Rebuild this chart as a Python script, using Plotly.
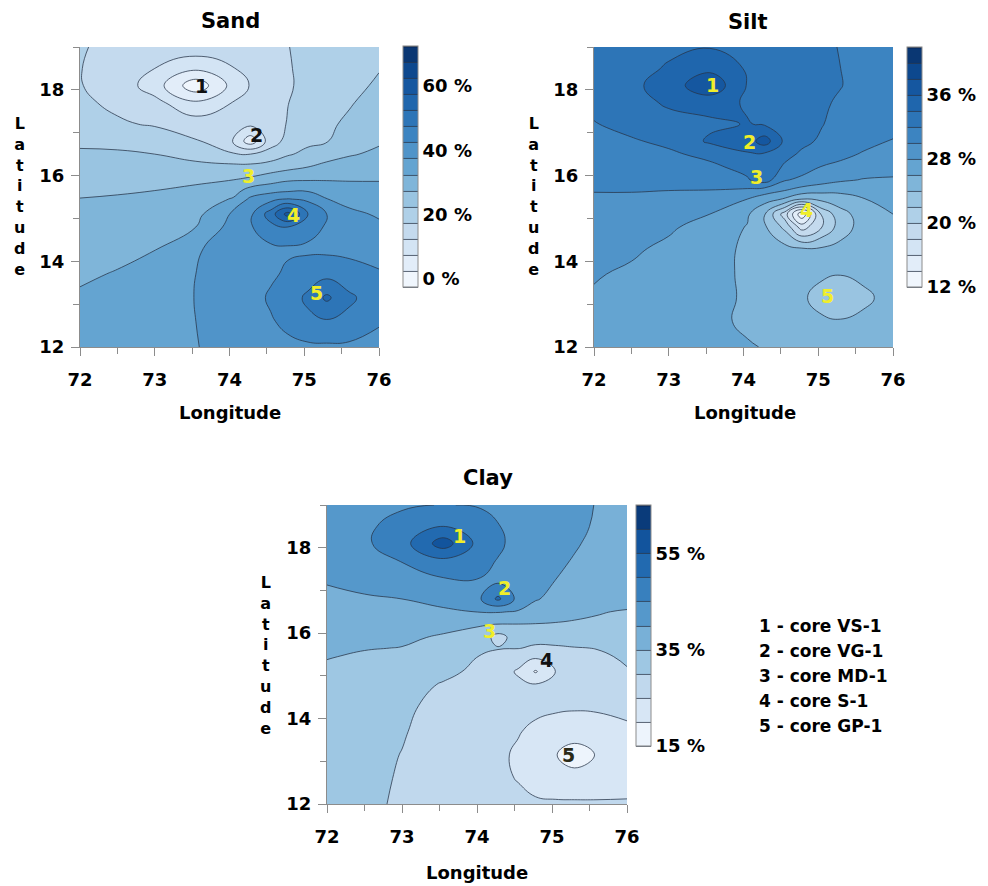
import plotly.graph_objects as go

# ---------------- data ----------------
LON = [72.0, 72.5, 73.0, 73.55, 74.05, 74.28, 74.55, 74.78, 75.05, 75.3, 75.6, 76.0]
LAT = [12.0, 12.6, 13.15, 13.7, 14.3, 14.8, 15.1, 15.45, 15.65, 15.9, 16.2, 16.5,
       16.8, 17.2, 17.7, 18.1, 18.5, 19.0]

# Sand (%), rows follow LAT, columns follow LON
SAND = [
    [35.0, 35.7, 36.5, 37.4, 38.5, 39.5, 40.5, 41.2, 41.6, 41.7, 41.6, 41.5],
    [34.0, 34.8, 36.0, 37.5, 39.0, 40.0, 42.0, 43.8, 46.3, 47.0, 46.0, 42.8],
    [33.1, 34.0, 35.5, 37.6, 39.0, 40.5, 43.2, 45.0, 48.5, 53.5, 48.5, 44.5],
    [31.8, 32.8, 34.0, 37.5, 39.0, 40.0, 41.7, 43.3, 45.0, 46.0, 44.5, 43.0],
    [30.4, 31.2, 32.3, 37.0, 39.5, 41.0, 41.5, 41.8, 41.6, 41.3, 41.2, 40.5],
    [29.2, 29.7, 30.5, 32.5, 39.5, 42.0, 46.0, 47.5, 44.5, 42.0, 39.5, 38.3],
    [28.4, 28.8, 29.5, 31.0, 38.5, 41.5, 50.0, 59.5, 47.5, 42.5, 38.5, 37.0],
    [27.6, 27.8, 28.2, 29.2, 33.0, 38.5, 41.0, 42.8, 41.5, 37.6, 36.1, 34.7],
    [26.8, 27.2, 27.5, 28.1, 30.5, 34.5, 36.0, 36.8, 37.0, 36.3, 34.5, 33.7],
    [25.8, 26.1, 26.5, 27.0, 27.5, 28.5, 30.5, 31.9, 32.2, 32.2, 32.2, 32.3],
    [24.3, 24.4, 24.3, 24.1, 23.9, 24.0, 24.9, 26.1, 27.5, 28.7, 29.5, 30.4],
    [23.3, 23.1, 22.5, 20.5, 18.0, 17.5, 19.5, 22.0, 23.7, 25.7, 27.1, 28.3],
    [21.5, 21.3, 20.0, 18.0, 12.3, 4.5, 15.3, 19.0, 21.5, 22.3, 24.3, 27.0],
    [19.0, 18.0, 17.1, 15.0, 13.5, 13.5, 15.1, 17.8, 19.5, 21.7, 23.3, 25.0],
    [18.2, 16.7, 14.0, 8.3, 12.7, 14.3, 15.5, 17.4, 19.3, 20.5, 22.1, 24.3],
    [17.7, 15.5, 10.0, -1.0, 9.3, 12.8, 15.0, 17.0, 18.7, 20.0, 21.3, 23.1],
    [17.6, 16.0, 12.5, 8.5, 12.3, 14.0, 15.8, 17.2, 18.5, 19.5, 20.7, 22.3],
    [17.8, 16.5, 15.8, 15.5, 15.7, 15.7, 16.5, 17.4, 18.5, 19.3, 20.0, 20.7],
]

# Silt (%)
SILT = [
    [27.1, 26.8, 26.5, 26.25, 26.1, 25.95, 25.6, 25.3, 25.0, 24.9, 24.9, 25.0],
    [27.4, 27.1, 26.7, 26.3, 25.8, 25.4, 25.0, 24.6, 24.2, 24.1, 24.3, 24.6],
    [27.8, 27.4, 27.0, 26.5, 25.8, 25.3, 24.7, 24.2, 23.5, 23.0, 23.7, 24.5],
    [28.15, 27.7, 27.2, 26.6, 25.7, 25.3, 25.0, 24.6, 24.2, 24.05, 24.3, 24.8],
    [28.7, 28.3, 27.6, 26.7, 25.7, 25.2, 24.6, 24.1, 24.2, 24.6, 25.0, 25.3],
    [29.2, 29.0, 28.3, 27.2, 25.9, 24.3, 21.5, 17.0, 20.0, 23.0, 24.8, 25.5],
    [29.5, 29.35, 29.0, 28.0, 26.3, 24.2, 19.0, 12.5, 20.5, 23.2, 25.0, 26.0],
    [29.8, 29.8, 29.6, 29.3, 28.0, 26.8, 25.8, 24.0, 24.5, 25.2, 25.9, 26.7],
    [30.05, 30.05, 30.0, 29.95, 29.6, 29.0, 28.0, 27.2, 26.6, 26.4, 27.0, 27.25],
    [30.3, 30.35, 30.5, 30.8, 31.8, 33.0, 30.2, 29.5, 28.9, 28.3, 27.9, 27.85],
    [30.7, 30.9, 31.2, 31.6, 32.6, 33.0, 31.8, 31.0, 29.9, 29.4, 29.0, 28.5],
    [31.05, 31.3, 31.7, 32.5, 33.8, 33.7, 32.4, 31.8, 31.2, 30.6, 29.8, 29.2],
    [31.2, 31.8, 32.4, 34.3, 35.0, 37.0, 33.6, 32.3, 31.8, 31.3, 30.7, 29.9],
    [31.9, 32.6, 33.2, 33.6, 34.1, 33.8, 33.0, 32.5, 32.05, 31.6, 31.1, 30.6],
    [32.5, 33.2, 34.3, 34.8, 33.8, 33.2, 32.8, 32.5, 32.2, 31.8, 31.3, 31.0],
    [32.8, 33.5, 35.0, 37.5, 33.9, 33.2, 32.8, 32.5, 32.3, 32.05, 31.5, 31.2],
    [32.7, 33.3, 34.2, 35.5, 33.8, 33.1, 32.7, 32.4, 32.2, 32.0, 31.5, 31.2],
    [32.6, 33.0, 33.6, 33.9, 33.3, 32.9, 32.6, 32.4, 32.2, 31.95, 31.6, 31.3],
]

# Clay (%)
CLAY = [
    [31.3, 30.6, 29.6, 28.0, 27.0, 26.5, 26.0, 25.6, 25.6, 25.6, 25.6, 25.5],
    [31.6, 30.9, 29.7, 27.8, 26.6, 25.8, 24.8, 23.5, 22.3, 22.0, 22.0, 23.0],
    [32.0, 31.2, 29.9, 28.0, 26.8, 25.9, 24.3, 22.5, 20.2, 17.5, 20.3, 22.5],
    [32.5, 31.5, 30.3, 28.3, 27.0, 26.4, 25.3, 24.0, 23.0, 22.6, 23.0, 24.3],
    [33.2, 32.0, 30.8, 28.8, 27.7, 27.2, 26.6, 26.2, 25.8, 25.6, 25.7, 26.0],
    [33.8, 32.7, 31.6, 29.7, 28.2, 27.2, 25.8, 25.2, 25.8, 26.8, 27.8, 28.8],
    [34.2, 33.3, 32.8, 31.0, 29.0, 27.0, 24.5, 19.5, 25.1, 27.0, 28.5, 29.8],
    [35.2, 34.5, 34.3, 32.0, 29.8, 28.5, 27.0, 25.8, 27.0, 28.5, 29.5, 30.4],
    [35.8, 35.2, 34.9, 33.3, 31.0, 30.3, 30.2, 29.3, 29.4, 29.8, 30.1, 31.0],
    [36.5, 36.0, 35.6, 34.6, 33.0, 28.0, 32.5, 31.5, 31.8, 32.0, 32.2, 32.0],
    [37.3, 36.9, 36.7, 36.0, 35.3, 34.8, 34.8, 34.7, 34.6, 34.3, 34.0, 33.6],
    [38.2, 38.3, 38.4, 39.0, 40.2, 40.3, 39.6, 38.8, 37.0, 36.3, 35.4, 34.5],
    [39.1, 39.4, 40.0, 42.0, 44.9, 51.0, 43.5, 40.2, 39.3, 38.6, 38.0, 37.3],
    [40.2, 41.5, 43.0, 44.0, 44.7, 44.5, 43.0, 41.5, 39.9, 39.0, 38.5, 38.0],
    [41.3, 43.0, 45.2, 49.0, 46.2, 44.8, 43.0, 41.6, 40.6, 39.8, 39.0, 38.2],
    [41.8, 44.2, 48.0, 57.5, 48.0, 45.8, 43.5, 42.0, 41.0, 40.3, 39.3, 38.5],
    [41.8, 44.0, 47.0, 50.0, 47.0, 45.2, 43.5, 42.2, 41.3, 40.6, 39.7, 38.8],
    [41.5, 43.0, 44.3, 45.2, 44.6, 44.0, 43.0, 42.0, 41.2, 40.6, 39.9, 39.0],
]

CORE_IDS = ["1", "2", "3", "4", "5"]
CORE_NAMES = ["core VS-1", "core VG-1", "core MD-1", "core S-1", "core GP-1"]

SAND_TICKS = [0, 20, 40, 60]
SILT_TICKS = [12, 20, 28, 36]
CLAY_TICKS = [15, 35, 55]

# ---------------- styling / layout ----------------
# the page body keeps an 8 px margin, so the figure is drawn 8 px in from the corner
OFF = 8
W, H = 988 - OFF, 886 - OFF
FONT = "DejaVu Sans"
YELLOW = "#f0ee2a"
AX_COL = "#8c8c8c"
BLUES = [
    [0.0, "rgb(247,251,255)"], [0.125, "rgb(221,234,247)"], [0.25, "rgb(192,216,237)"],
    [0.375, "rgb(150,195,224)"], [0.5, "rgb(100,164,209)"], [0.625, "rgb(62,134,194)"],
    [0.75, "rgb(34,106,176)"], [0.875, "rgb(14,78,152)"], [1.0, "rgb(8,46,102)"],
]


def px(x):
    return (x - OFF) / W


def py(y):
    return 1 - (y - OFF) / H


fig = go.Figure()


def colorbar(x0, ytop, length, ticks):
    return dict(
        x=px(x0), xanchor="left", y=py(ytop), yanchor="top",
        len=length, lenmode="pixels", thickness=15, thicknessmode="pixels",
        outlinecolor=AX_COL, outlinewidth=1, xpad=0, ypad=0,
        tickvals=ticks, ticktext=[f"{t} %" for t in ticks], ticks="",
        tickfont=dict(family=FONT, size=18, color="black", weight="bold"),
    )


def add_panel(z, xa, ya, start, end, size, cb):
    fig.add_trace(go.Contour(
        x=LON, y=LAT, z=z, xaxis=xa, yaxis=ya,
        colorscale=BLUES, zmin=start, zmax=end, autocontour=False,
        contours=dict(start=start, end=end, size=size, coloring="fill", showlines=True),
        line=dict(color="rgba(40,52,72,0.85)", width=0.9, smoothing=1.3),
        colorbar=cb, hoverinfo="skip",
    ))


add_panel(SAND, "x", "y", -2.5, 72.5, 5, colorbar(403, 46, 241, SAND_TICKS))
add_panel(SILT, "x2", "y2", 12, 42, 2, colorbar(907, 47, 240, SILT_TICKS))
add_panel(CLAY, "x3", "y3", 15, 65, 5, colorbar(636, 505, 241, CLAY_TICKS))

tickfont = dict(family=FONT, size=18, color="black", weight="bold")


def xax(x0, x1, anchor):
    return dict(domain=[px(x0), px(x1)], range=[72, 76], anchor=anchor,
                tick0=72, dtick=1, ticks="outside", ticklen=8, tickwidth=1, tickcolor=AX_COL,
                minor=dict(dtick=0.5, ticks="outside", ticklen=6, tickcolor=AX_COL),
                showline=True, linecolor=AX_COL, linewidth=1, showgrid=False, zeroline=False,
                tickfont=tickfont, ticklabelstandoff=8, fixedrange=True, automargin=False)


def yax(y0, y1, anchor):
    return dict(domain=[py(y1), py(y0)], range=[12, 19], anchor=anchor,
                tick0=12, dtick=2, ticks="outside", ticklen=8, tickwidth=1, tickcolor=AX_COL,
                minor=dict(dtick=1, ticks="outside", ticklen=6, tickcolor=AX_COL),
                showline=True, linecolor=AX_COL, linewidth=1, showgrid=False, zeroline=False,
                tickfont=tickfont, ticklabelstandoff=3, fixedrange=True, automargin=False)


annotations = []


def text(x, y, s, size=18, color="black", xanchor="center", yanchor="middle"):
    annotations.append(dict(
        x=x, y=y, xref="paper", yref="paper",
        text=s, showarrow=False, xanchor=xanchor, yanchor=yanchor,
        font=dict(family=FONT, size=size, color=color, weight="bold"),
    ))


# titles and axis titles
for name, cx, cy in [("Sand", 230, 21), ("Silt", 748, 22), ("Clay", 488, 478)]:
    text(px(cx), py(cy), name, size=21)
for cx, cy in [(230, 412), (745, 412), (477, 872)]:
    text(px(cx), py(cy), "Longitude", size=18)
for cx, cy in [(19, 196), (533, 196), (265, 655)]:
    text(px(cx), py(cy), "<br>".join("Latitude"), size=16)

# core labels on each panel (label anchors beside each core)
SAND_LBL = [(73.63, 18.1), (74.36, 16.95), (74.25, 15.98), (74.86, 15.08), (75.16, 13.25)]
SILT_LBL = [(73.58, 18.12), (74.08, 16.79), (74.17, 15.97), (74.84, 15.19), (75.12, 13.2)]
CLAY_LBL = [(73.76, 18.27), (74.37, 17.05), (74.16, 16.04), (74.93, 15.36), (75.22, 13.14)]
SAND_COL = ["#111111", "#111111", YELLOW, YELLOW, YELLOW]
SILT_COL = [YELLOW] * 5
CLAY_COL = [YELLOW, YELLOW, YELLOW, "#111111", "#2a2a18"]

for lbls, cols, ref in [(SAND_LBL, SAND_COL, ("x", "y")),
                        (SILT_LBL, SILT_COL, ("x2", "y2")),
                        (CLAY_LBL, CLAY_COL, ("x3", "y3"))]:
    for cid, (lx, ly), c in zip(CORE_IDS, lbls, cols):
        annotations.append(dict(x=lx, y=ly, xref=ref[0], yref=ref[1], text=cid,
                                showarrow=False, xanchor="center", yanchor="middle",
                                font=dict(family=FONT, size=19, color=c, weight="bold")))

# core legend
for i, (cid, nm) in enumerate(zip(CORE_IDS, CORE_NAMES)):
    text(px(757), py(626 + 25 * i), f"{cid} - {nm}", size=17, xanchor="left")

fig.update_layout(
    width=W, height=H, margin=dict(l=0, r=0, t=0, b=0, autoexpand=False),
    paper_bgcolor="white", plot_bgcolor="white", showlegend=False,
    xaxis=xax(80, 379, "y"), yaxis=yax(47, 347, "x"),
    xaxis2=xax(594, 893, "y2"), yaxis2=yax(47, 347, "x2"),
    xaxis3=xax(327, 627, "y3"), yaxis3=yax(505, 804, "x3"),
    annotations=annotations,
    font=dict(family=FONT, color="black"),
)

fig.write_html("out.html")
